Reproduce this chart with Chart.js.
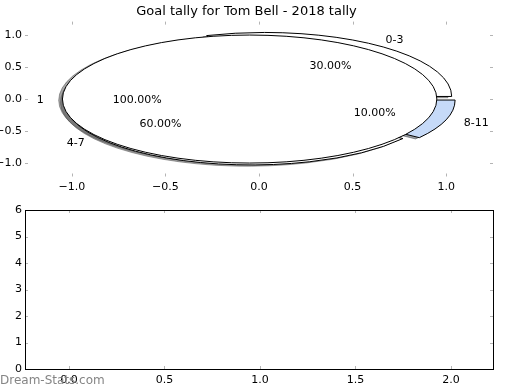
<!DOCTYPE html>
<html>
<head>
<meta charset="UTF-8">
<title>Goal tally for Tom Bell</title>
<script src="https://cdn.jsdelivr.net/npm/chart.js@4.4.1/dist/chart.umd.min.js"></script>
<style>
  body { margin: 0; background: #fff; }
  #wrap { position: relative; width: 520px; height: 390px; }
  #wrap canvas { position: absolute; left: 0; top: 0; }
</style>
</head>
<body>
<div id="wrap">
  <canvas id="topChart" width="520" height="390"></canvas>
  <canvas id="bottomChart" width="520" height="390"></canvas>
</div>

<script>
// data
const pieLabels = ['0-3', '4-7', '8-11'];
const pieValues = [30, 60, 10];
const pieColors = ['#ffffff', '#ffffff', '#c6daf8'];
const pie2Labels = ['1'];
const pie2Values = [100];
const pie2Colors = ['#ffffff'];
const explode = 0.05;

const topXTicks = [-1.0, -0.5, 0.0, 0.5, 1.0];
const topYTicks = [-1.0, -0.5, 0.0, 0.5, 1.0];
const bottomXTicks = [0.0, 0.5, 1.0, 1.5, 2.0];
const bottomYTicks = [0, 1, 2, 3, 4, 5, 6];

Chart.defaults.font.family = 'DejaVu Sans';
Chart.defaults.font.size = 11;
Chart.defaults.color = '#000';

const fmt1 = v => v.toFixed(1).replace('-', '\u2212');

// small grey ticks pointing inward on all four sides, optional black frame
const innerTicks = {
  id: 'innerTicks',
  afterDraw(chart, args, opts) {
    const { ctx, chartArea: a, scales: { x, y } } = chart;
    ctx.save();
    ctx.strokeStyle = '#b4b4b4';
    ctx.lineWidth = 1;
    ctx.beginPath();
    x.ticks.forEach(t => {
      const px = Math.round(x.getPixelForValue(t.value)) + 0.5;
      ctx.moveTo(px, a.top); ctx.lineTo(px, a.top + 3);
      ctx.moveTo(px, a.bottom); ctx.lineTo(px, a.bottom - 3);
    });
    y.ticks.forEach(t => {
      const py = Math.round(y.getPixelForValue(t.value)) + 0.5;
      ctx.moveTo(a.left, py); ctx.lineTo(a.left + 3, py);
      ctx.moveTo(a.right, py); ctx.lineTo(a.right - 3, py);
    });
    ctx.stroke();
    if (opts.frame) {
      ctx.strokeStyle = '#000';
      ctx.strokeRect(Math.round(a.left) + 0.5, Math.round(a.top) + 0.5,
        Math.round(a.right - a.left), Math.round(a.bottom - a.top));
    }
    ctx.restore();
  }
};

// pie wedges drawn through the data scales (axes are not equal aspect, so wedges are elliptical)
const ellipsePie = {
  id: 'ellipsePie',
  afterDatasetsDraw(chart) {
    const { ctx, scales: { x, y } } = chart;
    const ux = x.getPixelForValue(1) - x.getPixelForValue(0);
    const uy = y.getPixelForValue(0) - y.getPixelForValue(1);

    const wedges = [];
    function build(labels, values, colors) {
      const total = values.reduce((s, v) => s + v, 0);
      let acc = 0;
      labels.forEach((lab, i) => {
        const frac = values[i] / total;
        const t1 = acc * 2 * Math.PI, t2 = (acc + frac) * 2 * Math.PI;
        const mid = (t1 + t2) / 2;
        wedges.push({
          lab, frac, t1, t2, mid, color: colors[i],
          cx: explode * Math.cos(mid), cy: explode * Math.sin(mid),
          full: frac >= 0.9999
        });
        acc += frac;
      });
    }
    build(pieLabels, pieValues, pieColors);
    build(pie2Labels, pie2Values, pie2Colors);

    function path(w, ox, oy) {
      const cx = x.getPixelForValue(w.cx + ox), cy = y.getPixelForValue(w.cy + oy);
      ctx.beginPath();
      if (w.full) {
        ctx.ellipse(cx, cy, ux, uy, 0, 0, 2 * Math.PI);
      } else {
        ctx.moveTo(cx, cy);
        ctx.ellipse(cx, cy, ux, uy, 0, -w.t1, -w.t2, true);
        ctx.closePath();
      }
    }
    function shade(hex) {
      const n = parseInt(hex.slice(1), 16);
      const r = Math.round(((n >> 16) & 255) * 0.3), g = Math.round(((n >> 8) & 255) * 0.3), b = Math.round((n & 255) * 0.3);
      return 'rgba(' + r + ',' + g + ',' + b + ',0.5)';
    }

    ctx.save();
    ctx.lineWidth = 1;
    // shadows first (below wedges)
    wedges.forEach(w => {
      path(w, -0.02, -0.02);
      ctx.fillStyle = shade(w.color);
      ctx.strokeStyle = shade(w.color);
      ctx.fill();
      ctx.stroke();
    });
    wedges.forEach(w => {
      path(w, 0, 0);
      ctx.fillStyle = w.color;
      ctx.strokeStyle = '#000';
      ctx.fill();
      ctx.stroke();
    });
    // labels and percentages
    ctx.fillStyle = '#000';
    ctx.font = '11px "DejaVu Sans"';
    ctx.textBaseline = 'middle';
    wedges.forEach(w => {
      const lx = w.cx + 1.1 * Math.cos(w.mid), ly = w.cy + 1.1 * Math.sin(w.mid);
      ctx.textAlign = lx > 0 ? 'left' : 'right';
      ctx.fillText(w.lab, x.getPixelForValue(lx), y.getPixelForValue(ly) + 1);
      const px = w.cx + 0.6 * Math.cos(w.mid), py = w.cy + 0.6 * Math.sin(w.mid);
      ctx.textAlign = 'center';
      ctx.fillText((w.frac * 100).toFixed(2) + '%', x.getPixelForValue(px), y.getPixelForValue(py) + 1);
    });
    ctx.restore();
  }
};

const watermark = {
  id: 'watermark',
  afterDraw(chart) {
    const ctx = chart.ctx;
    ctx.save();
    ctx.font = '12px "DejaVu Sans"';
    ctx.fillStyle = '#858585';
    ctx.textAlign = 'left';
    ctx.textBaseline = 'middle';
    ctx.fillText('Dream-Stats.com', 0, 381);
    ctx.restore();
  }
};

function fixedTicks(values) {
  return scale => { scale.ticks = values.map(v => ({ value: v })); };
}

new Chart('topChart', {
  type: 'scatter',
  data: { datasets: [{ data: [] }] },
  options: {
    responsive: false,
    animation: false,
    layout: { padding: { left: 0, right: 27, top: 0, bottom: 193.5 } },
    plugins: {
      legend: { display: false },
      tooltip: { enabled: false },
      title: {
        display: true,
        text: 'Goal tally for Tom Bell - 2018 tally',
        font: { size: 13, weight: 'normal' },
        padding: { top: 4, bottom: 2 }
      },
      innerTicks: { frame: false }
    },
    scales: {
      x: {
        type: 'linear', min: -1.25, max: 1.25,
        afterBuildTicks: fixedTicks(topXTicks),
        afterFit: s => { s.height = 20; },
        grid: { display: false, drawTicks: false },
        border: { display: false },
        ticks: { padding: 4, maxRotation: 0, callback: v => fmt1(v) }
      },
      y: {
        type: 'linear', min: -1.21, max: 1.21,
        afterBuildTicks: fixedTicks(topYTicks),
        afterFit: s => { s.width = 25; },
        grid: { display: false, drawTicks: false },
        border: { display: false },
        ticks: { padding: 3, callback: v => fmt1(v) }
      }
    }
  },
  plugins: [ellipsePie, innerTicks]
});

new Chart('bottomChart', {
  type: 'scatter',
  data: { datasets: [{ data: [] }] },
  options: {
    responsive: false,
    animation: false,
    layout: { padding: { left: 0, right: 27, top: 210, bottom: 6 } },
    plugins: {
      legend: { display: false },
      tooltip: { enabled: false },
      innerTicks: { frame: true }
    },
    scales: {
      x: {
        type: 'linear', min: -0.23, max: 2.22,
        afterBuildTicks: fixedTicks(bottomXTicks),
        afterFit: s => { s.height = 15; },
        grid: { display: false, drawTicks: false },
        border: { display: false },
        ticks: { padding: 5, maxRotation: 0, callback: v => fmt1(v) }
      },
      y: {
        type: 'linear', min: 0, max: 6,
        afterBuildTicks: fixedTicks(bottomYTicks),
        afterFit: s => { s.width = 25; },
        grid: { display: false, drawTicks: false },
        border: { display: false },
        ticks: { padding: 3, callback: v => String(v) }
      }
    }
  },
  plugins: [innerTicks, watermark]
});
</script>
</body>
</html>
